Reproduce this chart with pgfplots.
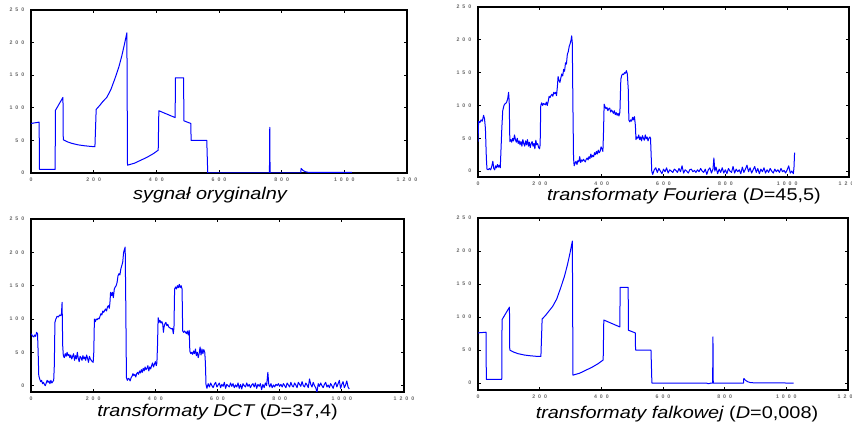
\documentclass[border=0pt]{standalone}
\usepackage{fontspec}
\setmainfont{Liberation Sans}
\usepackage{graphicx}
\usepackage{pgfplots}
\pgfplotsset{compat=1.18}
\newcommand{\sep}{\hspace{3pt}}
\newcommand{\ttl}[1]{\scalebox{1.17}[1]{\fontsize{17}{20}\selectfont #1}}
\pgfplotsset{panel/.style={
  scale only axis, xmin=0, xmax=1200, ymax=250,
  xtick={0,200,...,1200}, ytick={0,50,...,250},
  xticklabels={\mbox{0},\mbox{2\sep0\sep0},\mbox{4\sep0\sep0},\mbox{6\sep0\sep0},\mbox{8\sep0\sep0},\mbox{1\sep0\sep0\sep0},\mbox{1\sep2\sep0\sep0}},
  yticklabels={\mbox{0},\mbox{5\sep0},\mbox{1\sep0\sep0},\mbox{1\sep5\sep0},\mbox{2\sep0\sep0},\mbox{2\sep5\sep0}},
  tick align=inside, major tick length=3pt,
  tick style={black, line width=0.7pt},
  axis line style={black, line width=1.2pt},
  ticklabel style={font=\fontsize{5.2}{6}\selectfont\bfseries, text=black!60},
  xticklabel style={yshift=-1.2pt},
  yticklabel style={xshift=-3.2pt},
  every axis plot/.append style={blue, line width=1pt, line join=round, no markers, mark=none},
}}
\begin{document}
\begin{tikzpicture}[x=1pt,y=1pt]
\useasboundingbox (0,0) rectangle (852,-430);
% panel 1
\begin{axis}[panel, at={(31pt,-10pt)}, anchor=north west, width=376pt, height=163pt, ymin=0]
\addplot coordinates {(0,76) (26,78) (27,5.5) (77,5.5) (78,96) (102,116) (103,51) (115,48) (130,45.5) (150,43.2) (170,41.8) (190,40.8) (204,40.3) (208,97.5) (220,104) (230,110) (242,116) (255,128) (268,145) (280,162) (290,180) (298,197) (306,215) (308,12) (330,15) (350,19.5) (370,24) (390,29.5) (406,35) (408,95.5) (460,85) (461,146) (487,146) (488,80) (510,76) (511,50) (561,50) (564,0) (761,0) (762,70) (763,0) (861,0) (862,7) (868,4) (875,2) (885,1) (1024,1)};
\end{axis}
\node[anchor=base] at (210,-200) {\ttl{\itshape sygnał oryginalny}};
% panel 2
\begin{axis}[panel, at={(478pt,-7pt)}, anchor=north west, width=371pt, height=170pt, ymin=-9]
\addplot coordinates {(0,45) (2,76) (6,74) (10,78) (14,76) (18,85) (21,80) (24,65) (27,20) (29,3) (33,2) (37,4) (41,2) (45,8) (48,15) (51,4) (54,2) (57,8) (60,5) (63,10) (66,6) (69,9) (72,5) (75,40) (77,65) (80,92) (84,100) (88,103) (92,104) (96,110) (99,120) (101,105) (103,45) (106,48) (109,44) (112,50) (115,46) (118,55) (121,48) (124,44) (127,50) (130,42) (133,46) (136,40) (139,45) (142,38) (145,48) (148,42) (151,38) (154,46) (157,40) (160,48) (163,38) (166,44) (169,36) (172,42) (175,45) (178,38) (181,42) (184,34) (187,47) (190,40) (193,42) (196,36) (199,34) (201,40) (203,100) (206,104) (209,100) (212,103) (215,102) (218,101) (221,105) (224,100) (227,106) (230,114) (233,112) (236,115) (239,117) (242,114) (245,120) (248,118) (251,120) (254,115) (257,130) (259,144) (262,138) (265,135) (268,142) (271,148) (274,145) (277,155) (280,152) (283,165) (286,163) (289,178) (292,182) (295,190) (298,194) (301,200) (303,206) (305,195) (307,100) (309,20) (311,8) (314,12) (317,15) (320,10) (323,16) (326,14) (329,22) (332,13) (335,17) (338,15) (341,18) (344,16) (347,14) (350,18) (353,20) (356,17) (359,22) (362,19) (365,26) (368,21) (371,24) (374,22) (377,28) (380,25) (383,30) (386,26) (389,32) (392,28) (395,30) (398,37) (401,34) (404,30) (406,60) (408,102) (411,98) (414,95) (417,97) (420,92) (423,95) (426,96) (429,90) (432,93) (435,91) (438,88) (441,92) (444,86) (447,89) (450,85) (453,88) (456,84) (459,90) (462,140) (465,146) (468,148) (471,147) (474,150) (477,149) (480,153) (483,148) (486,125) (488,78) (491,75) (494,78) (497,76) (500,82) (503,78) (506,83) (509,70) (511,48) (514,52) (517,50) (520,55) (523,48) (526,52) (529,46) (532,54) (535,50) (538,47) (541,55) (544,49) (547,52) (550,46) (553,50) (556,52) (558,50) (560,25) (562,0) (565,-5) (570,2) (575,5) (580,-2) (585,4) (590,0) (595,-4) (600,3) (605,-1) (610,5) (615,-3) (620,2) (625,0) (630,-2) (635,3) (640,1) (645,-2) (650,4) (655,-1) (660,8) (665,-3) (670,2) (675,0) (680,-3) (685,2) (690,3) (695,-1) (700,1) (705,-2) (710,2) (715,-1) (720,4) (725,0) (730,-2) (735,3) (740,-5) (745,2) (750,5) (755,-3) (760,3) (763,20) (766,0) (770,6) (775,-4) (780,3) (785,-2) (790,5) (795,-3) (800,2) (805,-4) (810,4) (815,0) (820,-2) (825,7) (830,-3) (835,3) (840,-1) (845,2) (850,-4) (855,6) (860,-2) (865,3) (870,9) (875,-1) (880,5) (885,-3) (890,2) (895,7) (900,-2) (905,4) (910,-4) (915,3) (920,-1) (925,5) (930,-3) (935,2) (940,-2) (945,4) (950,0) (955,-3) (960,3) (965,-1) (970,2) (975,-2) (980,4) (985,-1) (990,1) (995,-3) (1000,2) (1005,8) (1010,-3) (1015,0) (1020,-4) (1022,5) (1024,28)};
\end{axis}
\node[anchor=base] at (684,-201) {\ttl{\itshape transformaty Fouriera \upshape(\textit{D}=45,5)}};
% panel 3
\begin{axis}[panel, at={(31pt,-219pt)}, anchor=north west, width=373pt, height=173pt, ymin=-9.5]
\addplot coordinates {(0,78) (3,76) (6,74) (9,73) (12,76) (15,74) (18,80) (21,78) (23,50) (25,15) (28,10) (31,6) (34,8) (37,3) (40,5) (43,2) (46,0) (49,4) (52,8) (55,5) (58,7) (61,3) (64,8) (67,4) (70,6) (73,8) (75,30) (77,95) (80,100) (84,104) (88,103) (92,106) (96,105) (98,108) (100,125) (102,60) (104,45) (107,42) (110,48) (113,44) (116,50) (119,45) (122,47) (125,42) (128,46) (131,40) (134,44) (137,48) (140,38) (143,45) (146,40) (149,50) (152,41) (155,36) (158,44) (161,42) (164,38) (167,45) (170,40) (173,43) (176,38) (179,46) (182,41) (185,35) (188,44) (191,40) (194,38) (197,36) (200,35) (202,50) (204,100) (207,96) (210,100) (213,99) (216,101) (219,100) (222,104) (225,108) (228,106) (231,112) (234,110) (237,113) (240,115) (243,112) (246,118) (249,120) (252,116) (254,125) (256,140) (259,135) (262,140) (265,132) (268,145) (271,148) (274,150) (277,155) (280,165) (283,168) (286,166) (289,175) (292,180) (295,185) (298,200) (301,205) (303,208) (305,120) (307,12) (310,8) (313,11) (316,10) (319,7) (322,12) (325,14) (328,18) (331,15) (334,17) (337,13) (340,18) (343,20) (346,17) (349,22) (352,19) (355,24) (358,20) (361,26) (364,22) (367,28) (370,24) (373,26) (376,30) (379,22) (382,28) (385,25) (388,30) (391,34) (394,28) (397,32) (400,36) (403,30) (405,34) (407,60) (409,102) (412,95) (415,98) (418,94) (421,96) (424,92) (426,80) (428,88) (431,93) (434,95) (437,90) (440,92) (443,88) (446,87) (449,86) (452,85) (455,86) (458,78) (460,88) (462,145) (465,148) (468,145) (471,150) (474,147) (477,152) (480,147) (483,150) (486,145) (488,82) (491,80) (494,82) (497,80) (500,78) (503,82) (506,76) (509,83) (511,52) (514,48) (517,50) (520,47) (523,52) (526,48) (529,55) (532,45) (535,50) (538,42) (541,48) (544,58) (547,46) (550,55) (553,48) (556,54) (559,50) (561,35) (563,2) (566,-4) (570,3) (574,-2) (578,4) (582,0) (586,-3) (590,2) (594,5) (598,-2) (602,1) (606,4) (610,-3) (614,2) (618,-1) (622,5) (626,-4) (630,2) (634,0) (638,-2) (642,4) (646,-1) (650,3) (654,-3) (658,1) (662,-2) (666,4) (670,-4) (674,2) (678,-5) (682,3) (686,0) (690,-2) (694,4) (698,-1) (702,2) (706,-3) (710,1) (714,3) (718,-2) (722,4) (726,-4) (730,2) (734,-1) (738,3) (742,-6) (746,2) (750,-3) (754,4) (758,0) (762,20) (765,2) (768,-2) (772,3) (776,-3) (780,1) (784,-2) (788,2) (792,0) (796,3) (800,-1) (804,2) (808,-2) (812,3) (816,0) (820,-3) (824,4) (828,1) (832,-2) (836,5) (840,0) (844,-2) (848,4) (852,1) (856,-3) (860,5) (864,2) (868,-1) (872,6) (876,0) (880,-2) (884,4) (888,1) (892,-3) (896,10) (900,2) (904,-2) (908,5) (912,0) (916,-3) (920,-10) (924,3) (928,-1) (932,4) (936,0) (940,-3) (944,2) (948,5) (952,-2) (956,1) (960,-3) (964,3) (968,0) (972,-4) (976,2) (980,5) (984,-2) (988,3) (992,8) (996,-4) (1000,2) (1004,6) (1008,-3) (1012,1) (1016,7) (1020,-2) (1024,-5)};
\end{axis}
\node[anchor=base] at (217.5,-416.7) {\ttl{\itshape transformaty DCT \upshape(\textit{D}=37,4)}};
% panel 4
\begin{axis}[panel, at={(478pt,-218pt)}, anchor=north west, width=370pt, height=172pt, ymin=-10.5]
\addplot coordinates {(0,76) (26,77) (27,5.5) (77,5.5) (78,96) (102,115) (103,50) (115,47) (130,44.5) (150,42.5) (170,41.3) (190,40.5) (204,40.3) (208,97) (220,103) (230,109) (242,116) (255,127) (268,144) (280,161) (290,179) (298,196) (306,215) (308,12) (330,15) (350,19.5) (370,24) (390,29.5) (406,35) (408,95.5) (460,85) (461,145) (487,145) (488,80) (510,76) (511,50) (561,50) (564,0) (740,0) (748,-1) (755,0) (761,0) (762,70) (763,0) (861,0) (862,7) (868,4) (875,2) (885,0.5) (1024,0)};
\end{axis}
\node[anchor=base] at (677,-418) {\ttl{\itshape transformaty falkowej \upshape(\textit{D}=0,008)}};
\end{tikzpicture}
\end{document}
